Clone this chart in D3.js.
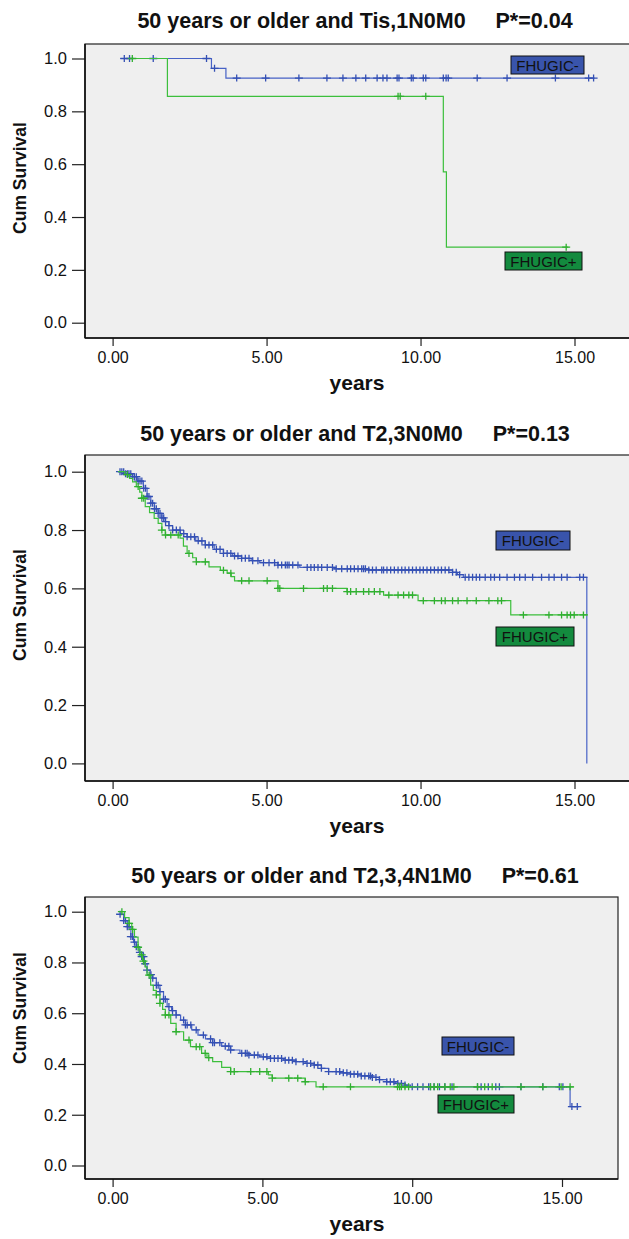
<!DOCTYPE html>
<html>
<head>
<meta charset="utf-8">
<script src="https://cdnjs.cloudflare.com/ajax/libs/d3/7.8.5/d3.min.js"></script>
<style>
body{margin:0;background:#fff;}
text{font-family:"Liberation Sans",Arial,sans-serif;fill:#111;}
</style>
</head>
<body>
<script>
// ---- data ----
var titles=["50 years or older and Tis,1N0M0","50 years or older and T2,3N0M0","50 years or older and T2,3,4N1M0"];
var pValues=["P*=0.04","P*=0.13","P*=0.61"];
var groups=["FHUGIC-","FHUGIC+"];
var xTicks=[0,5,10,15];
var yTicks=[0,0.2,0.4,0.6,0.8,1.0];

// panel 1  [years, cum survival] steps
var neg1=[[0.25,1.0],[3.21,0.963],[3.68,0.926]];
var neg1End=15.65;
var neg1Cens=[0.38,0.55,1.32,3.05,3.31,4.03,4.97,6.05,6.96,7.48,7.90,8.22,8.59,8.78,8.91,9.24,9.30,9.70,9.76,10.09,10.17,10.74,10.83,10.90,11.84,12.81,14.38,15.46,15.62];
var pos1=[[0.6,1.0],[1.78,0.857],[10.74,0.571],[10.84,0.286]];
var pos1End=14.8;
var pos1Cens=[0.64,9.27,9.34,10.17,14.73];

// panel 2
var neg2=[[0.18,1.0],[0.4,0.993],[0.65,0.983],[0.8,0.968],[1.0,0.943],[1.12,0.915],[1.24,0.892],[1.36,0.873],[1.48,0.857],[1.6,0.842],[1.71,0.829],[1.83,0.815],[1.95,0.80],[2.2,0.788],[2.42,0.777],[2.7,0.763],[3.01,0.749],[3.3,0.734],[3.6,0.72],[3.9,0.711],[4.19,0.703],[4.5,0.695],[4.78,0.688],[5.37,0.68],[6.08,0.672],[7.2,0.667],[8.32,0.663],[11.04,0.655],[11.2,0.647],[11.39,0.638],[15.4,0.0]];
var neg2End=15.4;
var neg2Cens=[0.24,0.30,0.36,0.42,0.48,0.53,0.59,0.65,0.71,0.77,0.83,0.89,0.95,1.01,1.07,1.12,1.18,1.24,1.30,1.36,1.42,1.48,1.54,1.60,1.66,1.72,1.83,1.95,2.07,2.19,2.31,2.42,2.54,2.66,2.78,2.90,3.01,3.13,3.25,3.37,3.49,3.60,3.72,3.84,3.96,4.07,4.19,4.31,4.43,4.55,4.72,4.90,5.08,5.26,5.37,5.49,5.61,5.67,5.73,5.85,6.02,6.32,6.44,6.55,6.67,6.79,6.97,7.14,7.26,7.44,7.62,7.73,7.85,7.97,8.09,8.15,8.21,8.32,8.44,8.56,8.74,8.80,8.91,9.03,9.15,9.27,9.39,9.50,9.62,9.74,9.86,9.98,10.09,10.21,10.33,10.45,10.57,10.68,10.80,10.92,11.04,11.16,11.27,11.45,11.57,11.69,11.81,11.92,12.10,12.28,12.40,12.57,12.81,13.05,13.22,13.40,13.64,13.93,14.17,14.34,14.58,14.76,15.17,15.29];
var pos2=[[0.18,1.0],[0.4,0.99],[0.55,0.977],[0.65,0.965],[0.77,0.949],[0.88,0.93],[0.95,0.909],[1.06,0.88],[1.2,0.86],[1.35,0.84],[1.48,0.823],[1.6,0.80],[1.71,0.783],[2.19,0.772],[2.3,0.745],[2.42,0.72],[2.6,0.705],[2.72,0.691],[3.13,0.674],[3.5,0.662],[3.72,0.652],[3.85,0.64],[3.96,0.626],[5.37,0.60],[7.61,0.589],[8.8,0.577],[9.92,0.558],[12.93,0.509]];
var pos2End=15.43;
var pos2Cens=[0.48,0.83,0.95,1.01,1.60,1.72,1.89,2.13,2.48,2.72,3.01,3.60,3.84,4.19,4.43,5.02,5.37,5.43,6.20,6.85,6.97,7.14,7.62,7.73,7.91,8.15,8.32,8.50,8.68,8.97,9.27,9.45,9.62,9.74,10.09,10.45,10.68,10.80,11.04,11.22,11.51,11.81,12.22,12.51,12.63,13.34,14.17,14.58,14.76,14.87,14.99,15.29];

// panel 3
var neg3=[[0.25,0.99],[0.37,0.965],[0.49,0.941],[0.61,0.902],[0.7,0.88],[0.79,0.862],[0.88,0.84],[0.97,0.823],[1.06,0.795],[1.15,0.77],[1.25,0.752],[1.34,0.738],[1.46,0.71],[1.58,0.685],[1.7,0.655],[1.82,0.626],[1.97,0.61],[2.12,0.593],[2.27,0.573],[2.43,0.554],[2.64,0.534],[2.85,0.514],[3.1,0.499],[3.34,0.484],[3.64,0.47],[3.94,0.455],[4.25,0.442],[4.55,0.435],[4.9,0.428],[5.27,0.422],[5.7,0.415],[6.12,0.409],[6.43,0.402],[6.73,0.396],[6.97,0.383],[7.21,0.37],[7.6,0.365],[7.94,0.36],[8.3,0.353],[8.67,0.347],[8.9,0.338],[9.15,0.33],[9.45,0.323],[9.76,0.317],[9.94,0.31],[15.27,0.232]];
var neg3End=15.57;
var neg3Cens=[0.25,0.37,0.43,0.49,0.55,0.61,0.67,0.73,0.79,0.91,0.97,1.03,1.09,1.15,1.28,1.34,1.46,1.52,1.58,1.70,1.76,1.88,2.00,2.12,2.37,2.43,2.49,2.61,2.79,3.03,3.27,3.34,3.40,3.58,3.76,3.88,3.94,4.31,4.43,4.49,4.55,4.73,4.85,5.03,5.15,5.27,5.40,5.52,5.64,5.76,5.88,6.00,6.12,6.36,6.49,6.61,6.73,6.85,6.97,7.21,7.46,7.58,7.70,7.82,7.94,8.06,8.18,8.30,8.42,8.55,8.61,8.67,8.79,8.91,9.15,9.27,9.39,9.52,9.64,9.76,10.00,10.18,10.36,10.55,10.61,10.73,10.91,11.09,11.33,12.18,12.30,12.54,12.79,12.91,13.63,14.36,14.91,15.03,15.33,15.51];
var pos3=[[0.25,1.0],[0.4,0.977],[0.55,0.954],[0.64,0.93],[0.73,0.9],[0.85,0.86],[0.91,0.83],[1.0,0.805],[1.09,0.783],[1.15,0.75],[1.27,0.711],[1.36,0.69],[1.46,0.672],[1.58,0.639],[1.67,0.615],[1.76,0.593],[1.94,0.56],[2.12,0.527],[2.37,0.494],[2.6,0.468],[2.97,0.442],[3.15,0.425],[3.34,0.409],[3.64,0.387],[3.94,0.37],[5.2,0.357],[5.33,0.344],[6.43,0.33],[6.79,0.31]];
var pos3End=15.39;
var pos3Cens=[0.31,0.55,0.67,0.85,0.97,1.03,1.22,1.46,1.58,1.76,1.88,2.12,2.55,2.79,2.91,3.09,3.21,3.94,4.06,4.61,4.91,5.15,5.33,5.88,6.18,6.43,7.03,7.94,9.51,9.58,9.64,9.76,9.88,10.61,10.73,10.85,11.09,11.27,11.39,12.18,12.42,12.67,13.63,14.36,14.97,15.27];

// ---- layout ----
var colNeg="#4762c6", colPos="#3cbf3c";
var markNeg="#3450b4", markPos="#30b030";
var fillNeg="#3954ab", fillPos="#138a3e";
var W=629,H=1239;

var panels=[
  {box:[85,44,640,338],x0:112.6,x15:574.5,y1:58.5,y0:322.7,titleY:28,cumY:178,
   neg:neg1,negEnd:neg1End,negC:neg1Cens,pos:pos1,posEnd:pos1End,posC:pos1Cens,
   labNeg:[511,56,73,18],labPos:[505,252,77,18]},
  {box:[85,455,640,781],x0:112.6,x15:574.5,y1:471.7,y0:763.4,titleY:441,cumY:605,
   neg:neg2,negEnd:neg2End,negC:neg2Cens,pos:pos2,posEnd:pos2End,posC:pos2Cens,
   labNeg:[496,531,74,19],labPos:[496,627,78,19]},
  {box:[85,897,618,1179],x0:112.6,x15:562,y1:911.7,y0:1165.5,titleY:883,cumY:1008,
   neg:neg3,negEnd:neg3End,negC:neg3Cens,pos:pos3,posEnd:pos3End,posC:pos3Cens,
   labNeg:[442,1037,72,18],labPos:[438,1095,76,18]}
];

var svg=d3.select("body").append("svg").attr("width",W).attr("height",H);

function survAt(steps,t){
  var s=steps[0][1];
  for(var i=0;i<steps.length;i++){ if(steps[i][0]<=t) s=steps[i][1]; }
  return s;
}

function drawCurve(g,x,y,steps,end,cens,col,mark){
  var pts=steps.slice();
  pts.push([end,steps[steps.length-1][1]]);
  var line=d3.line().x(function(d){return x(d[0]);}).y(function(d){return y(d[1]);}).curve(d3.curveStepAfter);
  g.append("path").attr("d",line(pts)).attr("fill","none").attr("stroke",col).attr("stroke-width",1.2);
  g.selectAll(null).data(cens).enter().append("path")
    .attr("transform",function(t){return "translate("+x(t)+","+y(survAt(steps,t))+")";})
    .attr("d","M-4,0H4M0,-3.5V3.5")
    .attr("stroke",mark).attr("stroke-width",1.3).attr("fill","none");
}

function drawLabel(g,r,txt,fill){
  g.append("rect").attr("x",r[0]).attr("y",r[1]).attr("width",r[2]).attr("height",r[3])
    .attr("fill",fill).attr("stroke","#111").attr("stroke-width",1);
  g.append("text").attr("x",r[0]+r[2]/2).attr("y",r[1]+r[3]/2+5.5).attr("text-anchor","middle")
    .style("font-size","15px").text(txt);
}

panels.forEach(function(p,i){
  var g=svg.append("g");
  var x=d3.scaleLinear().domain([0,15]).range([p.x0,p.x15]);
  var y=d3.scaleLinear().domain([0,1]).range([p.y0,p.y1]);
  var b=p.box;

  g.append("rect").attr("x",b[0]).attr("y",b[1]).attr("width",b[2]-b[0]).attr("height",b[3]-b[1])
    .attr("fill","#efefef").attr("stroke","#222").attr("stroke-width",1.2);

  // title
  g.append("text").attr("x",355).attr("y",p.titleY).attr("text-anchor","middle")
    .style("font-size","21.5px").style("font-weight","bold").style("white-space","pre")
    .text(titles[i]+"     "+pValues[i]);

  // axes
  var xa=d3.axisBottom(x).tickValues(xTicks).tickSize(8).tickPadding(6).tickFormat(d3.format(".2f"));
  var gx=g.append("g").attr("transform","translate(0,"+b[3]+")").call(xa);
  gx.select(".domain").remove();
  gx.selectAll("line").attr("stroke","#222").attr("stroke-width",1.2);
  gx.selectAll("text").style("font-size","16px").style("font-family","'Liberation Sans',Arial,sans-serif").attr("fill","#111");

  var ya=d3.axisLeft(y).tickValues(yTicks).tickSize(13).tickPadding(5).tickFormat(d3.format(".1f"));
  var gy=g.append("g").attr("transform","translate("+b[0]+",0)").call(ya);
  gy.select(".domain").remove();
  gy.selectAll("line").attr("stroke","#222").attr("stroke-width",1.2);
  gy.selectAll("text").style("font-size","16.5px").style("font-family","'Liberation Sans',Arial,sans-serif").attr("fill","#111");

  // thicker left and bottom frame
  g.append("line").attr("x1",b[0]).attr("x2",b[0]).attr("y1",b[1]).attr("y2",b[3]).attr("stroke","#111").attr("stroke-width",1.6);
  g.append("line").attr("x1",b[0]).attr("x2",b[2]).attr("y1",b[3]).attr("y2",b[3]).attr("stroke","#111").attr("stroke-width",1.6);

  g.append("text").attr("x",(b[0]+629)/2).attr("y",b[3]+52).attr("text-anchor","middle")
    .style("font-size","21px").style("font-weight","bold").text("years");
  g.append("text").attr("transform","translate(26,"+p.cumY+") rotate(-90)").attr("text-anchor","middle")
    .style("font-size","17.5px").style("font-weight","bold").text("Cum Survival");

  drawCurve(g,x,y,p.neg,p.negEnd,p.negC,colNeg,markNeg);
  drawCurve(g,x,y,p.pos,p.posEnd,p.posC,colPos,markPos);

  drawLabel(g,p.labNeg,groups[0],fillNeg);
  drawLabel(g,p.labPos,groups[1],fillPos);
});
</script>
</body>
</html>
